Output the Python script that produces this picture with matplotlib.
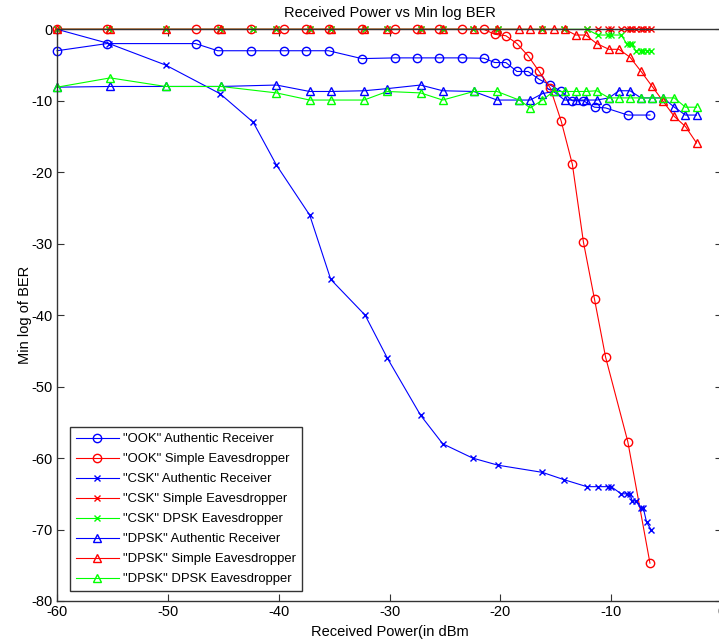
import numpy as np
import matplotlib.pyplot as plt

# --- data ---
ook_x = [-60, -55.5, -47.5, -45.5, -42.5, -39.5, -37.5, -35.5, -32.5, -29.5, -27.5, -25.5,
         -23.5, -21.5, -20.5, -19.5, -18.5, -17.5, -16.5, -15.5, -14.5, -13.5, -12.5,
         -11.5, -10.5, -8.5, -6.5]
ook_auth = [-3, -2, -2, -3, -3, -3, -3, -3, -4.1, -4, -4, -4, -4, -4.05, -4.65, -4.65,
            -5.9, -5.9, -7, -7.8, -8.7, -10, -10, -10.9, -11, -12, -12]
ook_simple = [0, 0, 0, 0, 0, 0, 0, 0, 0, 0, 0, 0, 0, 0, -0.7, -0.9, -2, -3.7, -5.9,
              -8.2, -12.9, -18.9, -29.8, -37.8, -45.9, -57.7, -74.7]

csk_x = [-60, -55.3, -50.2, -45.3, -42.3, -40.2, -37.2, -35.3, -32.2, -30.2, -27.2, -25.2,
         -22.5, -20.2, -16.2, -14.3, -12.2, -11.2, -10.3, -10.0, -9.1, -8.6, -8.3, -8.1,
         -7.8, -7.3, -7.1, -6.8, -6.4]
csk_auth = [0, -2, -5, -9, -13, -19, -26, -35, -40, -46, -54, -58, -60, -61, -62, -63,
            -64, -64, -64, -64, -65, -65, -65, -66, -66, -67, -67, -69, -70]
csk_simple = [0] * len(csk_x)
csk_dpsk = [0, 0, 0, 0, 0, 0, 0, 0, 0, 0, 0, 0, 0, 0, 0, 0, 0, -0.8, -0.8, -0.8, -0.8,
            -2, -2, -2, -3, -3, -3, -3, -3]

dpsk_x = [-60, -55.2, -50.2, -45.2, -40.2, -37.2, -35.3, -32.3, -30.2, -27.2, -25.2, -22.4,
          -20.3, -18.3, -17.3, -16.2, -15.2, -14.2, -13.2, -12.3, -11.3, -10.2, -9.3, -8.3,
          -7.3, -6.3, -5.3, -4.3, -3.3, -2.3]
dpsk_auth = [-8.1, -8, -8, -8, -7.8, -8.7, -8.7, -8.6, -8.3, -7.8, -8.6, -8.7, -9.9, -9.9,
             -9.9, -9.0, -8.7, -9.9, -9.9, -9.9, -9.9, -9.6, -8.6, -8.6, -9.6, -9.6, -9.6,
             -10.9, -12, -12]
dpsk_simple = [0, 0, 0, 0, 0, 0, 0, 0, 0, 0, 0, 0, 0, 0, 0, 0, 0, 0, -0.8, -0.8, -2,
               -2.8, -2.8, -3.9, -5.9, -8, -10.1, -12.2, -13.6, -15.9]
dpsk_dpsk = [-8.1, -6.8, -8, -8, -8.9, -9.9, -9.9, -9.9, -8.7, -8.9, -9.9, -8.7, -8.7,
             -9.9, -11, -9.9, -8.7, -8.7, -8.7, -8.7, -8.6, -9.6, -9.6, -9.6, -9.6, -9.6,
             -9.6, -9.6, -10.9, -10.9]

#%%
plt.rcParams['font.family'] = ['Liberation Sans Narrow', 'Liberation Sans', 'DejaVu Sans']
plt.rcParams['axes.unicode_minus'] = False

fig = plt.figure(figsize=(7.19, 6.42), dpi=100)
ax = fig.add_axes([57 / 719, 1 - 601 / 642, 665 / 719, (601 - 29.3) / 642])

blue, red, green = '#0000ff', '#ff0000', '#00ff00'
kw = dict(linewidth=0.8, markersize=6, markerfacecolor='none', clip_on=False)

ax.plot(ook_x, ook_auth, '-o', color=blue, label='"OOK" Authentic Receiver', **kw)
ax.plot(ook_x, ook_simple, '-o', color=red, label='"OOK" Simple Eavesdropper', **kw)
ax.plot(csk_x, csk_auth, '-x', color=blue, label='"CSK" Authentic Receiver',
        linewidth=0.8, markersize=4, clip_on=False)
ax.plot(csk_x, csk_simple, '-x', color=red, label='"CSK" Simple Eavesdropper',
        linewidth=0.8, markersize=4, clip_on=False)
ax.plot(csk_x, csk_dpsk, '-x', color=green, label='"CSK" DPSK Eavesdropper',
        linewidth=0.8, markersize=4, clip_on=False)
ax.plot(dpsk_x, dpsk_auth, '-^', color=blue, label='"DPSK" Authentic Receiver', **kw)
ax.plot(dpsk_x, dpsk_simple, '-^', color=red, label='"DPSK" Simple Eavesdropper', **kw)
ax.plot(dpsk_x, dpsk_dpsk, '-^', color=green, label='"DPSK" DPSK Eavesdropper', **kw)

ax.set_xlim(-60, 0)
ax.set_ylim(-80, 0)
ax.set_xticks(np.arange(-60, 1, 10))
ax.set_yticks(np.arange(-80, 1, 10))
ax.tick_params(direction='in', top=True, right=True, length=5, width=0.8,
               labelsize=10.5, color='#333333', pad=3)
for s in ax.spines.values():
    s.set_color('#333333')
    s.set_linewidth(1.0)

ax.set_title('Received Power vs Min log BER', fontsize=10.5, pad=9)
ax.set_xlabel('Received Power(in dBm', fontsize=10.5, labelpad=4)
ax.set_ylabel('Min log of BER', fontsize=10.5, labelpad=0)

leg = ax.legend(loc='lower left', bbox_to_anchor=(13 / 665, 10 / 572), borderaxespad=0,
                fontsize=9.4, fancybox=False, framealpha=1, edgecolor='#333333',
                handlelength=3.3, labelspacing=0.6, borderpad=0.45, handletextpad=0.3)
leg.get_frame().set_linewidth(1.0)

plt.savefig('out.png', dpi=100)
